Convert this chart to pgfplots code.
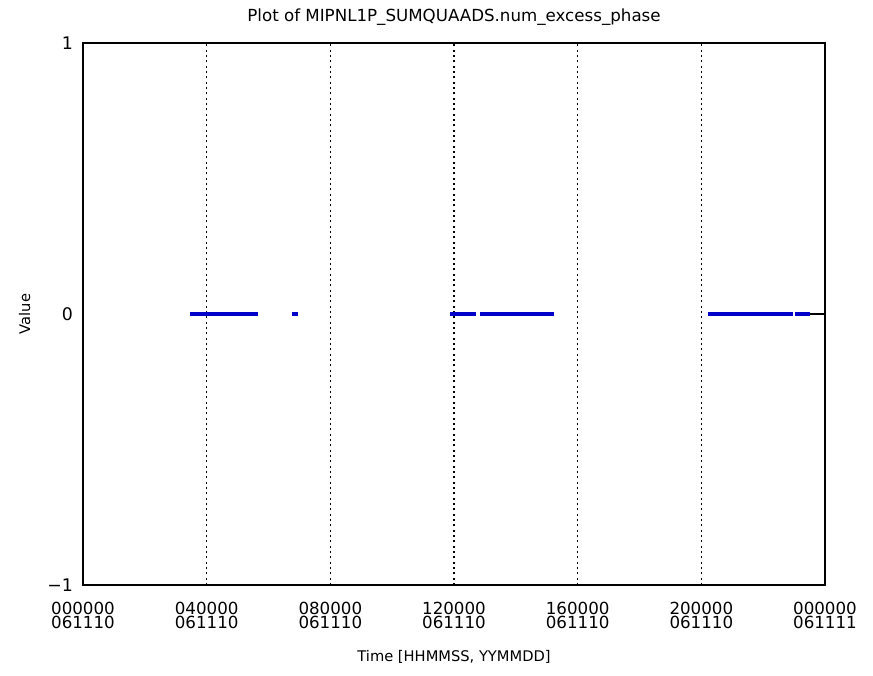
\documentclass[border=0pt]{standalone}
\usepackage{pgfplots}
\pgfplotsset{compat=1.18}
\usepackage{fontspec}
\setmainfont{DejaVu Sans}
\definecolor{dblue}{RGB}{0,0,200}
\begin{document}
\begin{tikzpicture}
\useasboundingbox (-62.25pt,-67.5pt) rectangle (592.5pt,438.75pt);
\begin{axis}[
  at={(0,0)}, anchor=south west,
  scale only axis, width=556.5pt, height=406.5pt,
  xmin=0, xmax=24, ymin=-1, ymax=1,
  xtick={0,4,8,12,16,20,24},
  xticklabels={000000\\061110,040000\\061110,080000\\061110,120000\\061110,160000\\061110,200000\\061110,000000\\061111},
  xticklabel style={align=center, font=\fontsize{12.5}{11}\selectfont, yshift=-9pt},
  yticklabel style={font=\fontsize{13}{14}\selectfont, xshift=-4pt},
  ytick={-1,0,1},
  yticklabels={−1,0,1},
  major tick length=0pt,
  xmajorgrids, major grid style={black, dash pattern=on 1.5pt off 2.5pt, line width=1pt},
  axis line style={black, line width=0.9pt},
  title={Plot of MIPNL1P\_SUMQUAADS.num\_excess\_phase},
  title style={font=\fontsize{12.5}{14}\selectfont, yshift=4pt},
  xlabel={Time [HHMMSS, YYMMDD]},
  xlabel style={font=\fontsize{11}{13}\selectfont, yshift=-9.5pt},
  ylabel={Value},
  ylabel style={font=\fontsize{11}{13}\selectfont, yshift=6pt},
  clip=false,
]
\addplot[dblue, line width=2.3pt] coordinates {(3.46,0) (5.66,0)};
\addplot[dblue, line width=2.3pt] coordinates {(6.76,0) (6.96,0)};
\addplot[dblue, line width=2.3pt] coordinates {(11.87,0) (12.72,0)};
\addplot[dblue, line width=2.3pt] coordinates {(12.85,0) (15.24,0)};
\addplot[dblue, line width=2.3pt] coordinates {(20.2,0) (22.95,0)};
\addplot[dblue, line width=2.3pt] coordinates {(23.02,0) (23.53,0)};
\addplot[black, line width=0.9pt] coordinates {(23.53,0) (24,0)};
\end{axis}
\end{tikzpicture}
\end{document}
